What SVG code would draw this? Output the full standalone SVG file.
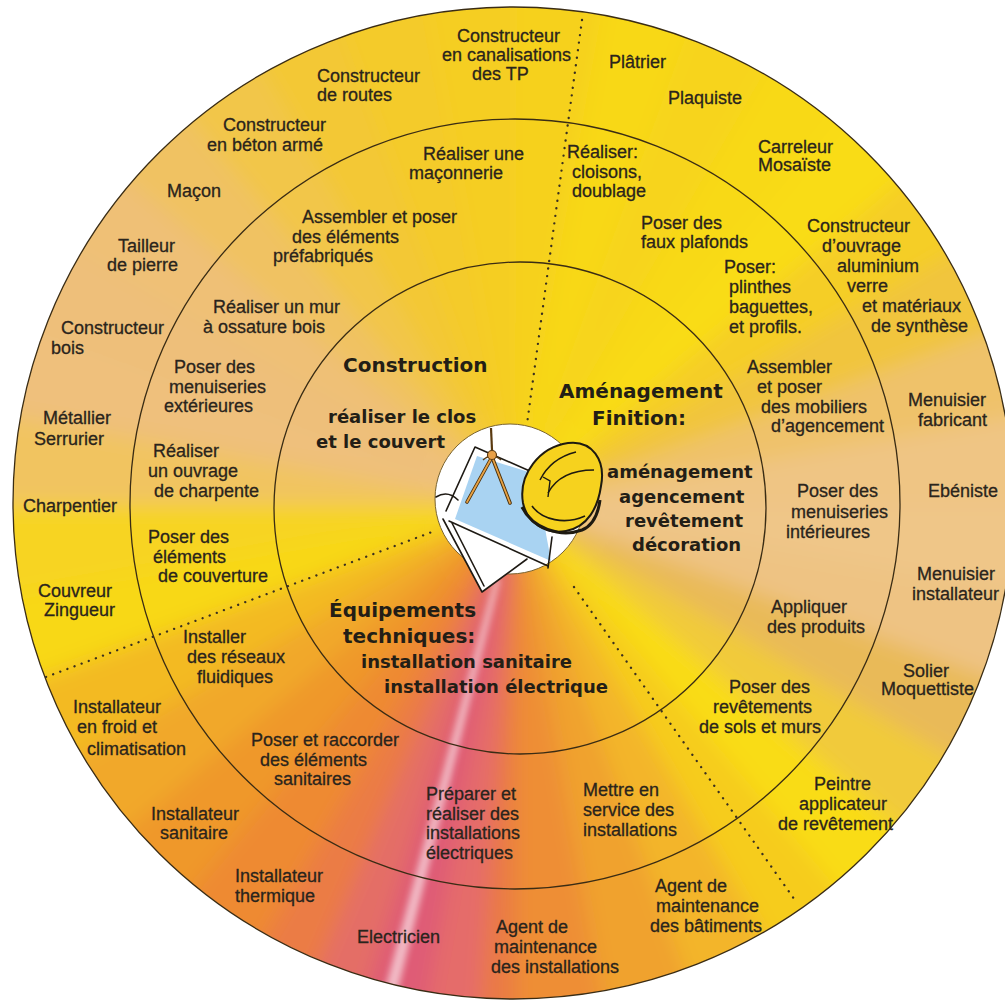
<svg xmlns="http://www.w3.org/2000/svg" width="1005" height="1001" viewBox="0 0 1005 1001">
<defs>
  <clipPath id="disc"><ellipse cx="513" cy="503" rx="500" ry="496"/></clipPath>
  <filter id="soft" filterUnits="userSpaceOnUse" x="-100" y="-100" width="1250" height="1250"><feGaussianBlur stdDeviation="10"/></filter>
  <filter id="soft2" filterUnits="userSpaceOnUse" x="300" y="500" width="300" height="520"><feGaussianBlur stdDeviation="3.5"/></filter>
</defs>
<style>
  .t{font-family:"Liberation Sans",Arial,sans-serif;font-size:18px;fill:#2a241c;stroke:#2a241c;stroke-width:0.3;}
  .h{font-family:"DejaVu Sans",Verdana,sans-serif;font-weight:bold;font-size:20px;fill:#231e16;}
  .s{font-family:"DejaVu Sans",Verdana,sans-serif;font-weight:bold;font-size:18px;fill:#231e16;}
  .ring{fill:none;stroke:#3a2c14;stroke-width:1.3;}
  .dot{fill:none;stroke:#3a3020;stroke-width:2.3;stroke-linecap:round;stroke-dasharray:0.1 7.5;}
  .w{fill:none;stroke-width:560;stroke-dasharray:50 1800;}
  .ln{fill:none;stroke:#1e1a14;stroke-width:1.6;stroke-linecap:round;stroke-linejoin:round;}
</style>
<rect width="1005" height="1001" fill="#ffffff"/>

<g id="background" clip-path="url(#disc)">
  <g filter="url(#soft)">
    <g transform="translate(515,505)">
      <circle r="280" class="w" stroke="#F6D11C" transform="rotate(-90)"/>
      <circle r="280" class="w" stroke="#F8D816" transform="rotate(-80)"/>
      <circle r="280" class="w" stroke="#F7D41A" transform="rotate(-70)"/>
      <circle r="280" class="w" stroke="#F8D914" transform="rotate(-60)"/>
      <circle r="280" class="w" stroke="#F9DC12" transform="rotate(-50)"/>
      <circle r="280" class="w" stroke="#F5CE26" transform="rotate(-40)"/>
      <circle r="280" class="w" stroke="#F1C53C" transform="rotate(-30)"/>
      <circle r="280" class="w" stroke="#EFC26A" transform="rotate(-20)"/>
      <circle r="280" class="w" stroke="#EFC584" transform="rotate(-10)"/>
      <circle r="280" class="w" stroke="#EFC688" transform="rotate(0)"/>
      <circle r="280" class="w" stroke="#EEC383" transform="rotate(10)"/>
      <circle r="280" class="w" stroke="#E9BA58" transform="rotate(20)"/>
      <circle r="280" class="w" stroke="#F1CA3A" transform="rotate(30)"/>
      <circle r="280" class="w" stroke="#F9DC18" transform="rotate(40)"/>
      <circle r="280" class="w" stroke="#F6CC1E" transform="rotate(50)"/>
      <circle r="280" class="w" stroke="#F3B52A" transform="rotate(60)"/>
      <circle r="280" class="w" stroke="#F0A22E" transform="rotate(70)"/>
      <circle r="280" class="w" stroke="#EE8E36" transform="rotate(80)"/>
      <circle r="280" class="w" stroke="#EA7A44" transform="rotate(90)"/>
      <circle r="280" class="w" stroke="#E2646E" transform="rotate(100)"/>
      <circle r="280" class="w" stroke="#EB7C44" transform="rotate(110)"/>
      <circle r="280" class="w" stroke="#EE8A30" transform="rotate(120)"/>
      <circle r="280" class="w" stroke="#EF982C" transform="rotate(130)"/>
      <circle r="280" class="w" stroke="#F1A82A" transform="rotate(140)"/>
      <circle r="280" class="w" stroke="#F3BA24" transform="rotate(150)"/>
      <circle r="280" class="w" stroke="#F8D818" transform="rotate(160)"/>
      <circle r="280" class="w" stroke="#F7D424" transform="rotate(170)"/>
      <circle r="280" class="w" stroke="#F1C460" transform="rotate(180)"/>
      <circle r="280" class="w" stroke="#EFC07C" transform="rotate(190)"/>
      <circle r="280" class="w" stroke="#EEBF7A" transform="rotate(200)"/>
      <circle r="280" class="w" stroke="#EFC076" transform="rotate(210)"/>
      <circle r="280" class="w" stroke="#F0C262" transform="rotate(220)"/>
      <circle r="280" class="w" stroke="#F2C648" transform="rotate(230)"/>
      <circle r="280" class="w" stroke="#F3C834" transform="rotate(240)"/>
      <circle r="280" class="w" stroke="#F4CB2A" transform="rotate(250)"/>
      <circle r="280" class="w" stroke="#F5CE22" transform="rotate(260)"/>
      <circle r="280" class="w" stroke="#E56C6A" style="stroke-dasharray:30 1800" transform="rotate(94)"/>
      <circle r="280" class="w" stroke="#DF5C76" style="stroke-dasharray:35 1800" transform="rotate(100)"/>
      <circle r="280" class="w" stroke="#E46E66" style="stroke-dasharray:30 1800" transform="rotate(107)"/>
    </g>
  </g>
  <polygon points="495,578 500,578 394,1005 381,1005" fill="#ffffff" opacity="0.6" filter="url(#soft2)"/>
</g>

<g id="rings">
  <ellipse class="ring" cx="513" cy="503" rx="500" ry="496"/>
  <circle class="ring" cx="515" cy="504" r="385"/>
  <circle class="ring" cx="520" cy="508" r="246"/>
</g>

<g id="connectors">
  <line class="dot" x1="582" y1="20" x2="527" y2="424"/>
  <line class="dot" x1="46" y1="677" x2="432" y2="532"/>
  <line class="dot" x1="574" y1="587" x2="797" y2="903"/>
</g>

<g id="center-illustration">
  <circle cx="510" cy="499" r="75" fill="#ffffff" stroke="#7a6430" stroke-width="1"/>
  <polygon points="443,519 482,592 527,559 548,567 450,521" fill="#ffffff"/>
  <polyline class="ln" points="443,519 482,592 527,559"/>
  <polyline class="ln" points="452,523 484,586"/>
  <polygon points="446,511 475,447 532,472 552,540 450,521" fill="#ffffff"/>
  <polyline class="ln" points="446,511 475,447 532,472"/>
  <polygon points="455,519 477,456 535,474 551,561" fill="#A9D3F2"/>
  <line class="ln" x1="449" y1="521" x2="548" y2="566" stroke-width="2"/>
  <line class="ln" x1="552" y1="537" x2="548" y2="568"/>
  <path class="ln" d="M436,497 C444,492 452,494 458,500"/>
  <line x1="491" y1="428" x2="492" y2="450" stroke="#5a3a10" stroke-width="2.2"/>
  <line x1="492" y1="457" x2="467" y2="502" stroke="#4a300c" stroke-width="3.6" stroke-linecap="round"/>
  <line x1="492" y1="457" x2="510" y2="503" stroke="#4a300c" stroke-width="3.6" stroke-linecap="round"/>
  <line x1="492" y1="457" x2="467" y2="502" stroke="#E8A244" stroke-width="1.8" stroke-linecap="round"/>
  <line x1="492" y1="457" x2="510" y2="503" stroke="#E8A244" stroke-width="1.8" stroke-linecap="round"/>
  <path d="M483,460 Q492,452 501,460" fill="none" stroke="#5a3a10" stroke-width="1.5"/>
  <circle cx="492" cy="455" r="4.5" fill="#E8A048" stroke="#5a3a10" stroke-width="1.2"/>
  <path d="M523,503 C518,474 540,447 568,443 C592,440 606,460 601,486 C598,507 588,527 566,531 C545,535 527,522 523,503 Z" fill="#F6D21E" stroke="#1e1a10" stroke-width="2"/>
  <path d="M522,507 C532,528 560,538 582,530 C592,526 598,515 600,500" fill="none" stroke="#1e1a10" stroke-width="3"/>
  <path d="M532,506 C542,520 565,525 585,516" fill="none" stroke="#1e1a10" stroke-width="1.6"/>
  <path d="M540,480 C548,464 560,456 576,452" fill="none" stroke="#1e1a10" stroke-width="1.5"/>
  <path d="M548,493 C556,478 572,470 594,470" fill="none" stroke="#1e1a10" stroke-width="1.5"/>
  <path d="M543,477 L550,481 L548,497" fill="none" stroke="#1e1a10" stroke-width="1.4"/>
</g>

<g id="title-construction">
  <text class="h" x="343" y="372">Construction</text>
  <text class="s"><tspan x="328" y="423">réaliser le clos</tspan><tspan x="316" y="448">et le couvert</tspan></text>
</g>
<g id="title-amenagement">
  <text class="h"><tspan x="559" y="398">Aménagement</tspan><tspan x="592" y="425">Finition:</tspan></text>
  <text class="s"><tspan x="607" y="478">aménagement</tspan><tspan x="619" y="503">agencement</tspan><tspan x="625" y="527">revêtement</tspan><tspan x="632" y="551">décoration</tspan></text>
</g>
<g id="title-equipements">
  <text class="h"><tspan x="329" y="617">Équipements</tspan><tspan x="343" y="643">techniques:</tspan></text>
  <text class="s"><tspan x="361" y="668">installation sanitaire</tspan><tspan x="384" y="693">installation électrique</tspan></text>
</g>

<g id="n-realiser-maconnerie"><text class="t"><tspan x="423" y="160">Réaliser une</tspan><tspan x="409" y="179">maçonnerie</tspan></text></g>
<g id="n-assembler-prefab"><text class="t"><tspan x="302" y="223">Assembler et poser</tspan><tspan x="292" y="243">des éléments</tspan><tspan x="273" y="262">préfabriqués</tspan></text></g>
<g id="n-mur-ossature"><text class="t"><tspan x="213" y="313">Réaliser un mur</tspan><tspan x="203" y="333">à ossature bois</tspan></text></g>
<g id="n-menuiseries-ext"><text class="t"><tspan x="174" y="373">Poser des</tspan><tspan x="169" y="393">menuiseries</tspan><tspan x="164" y="412">extérieures</tspan></text></g>
<g id="n-charpente"><text class="t"><tspan x="153" y="457">Réaliser</tspan><tspan x="148" y="477">un ouvrage</tspan><tspan x="154" y="497">de charpente</tspan></text></g>
<g id="n-couverture"><text class="t"><tspan x="148" y="543">Poser des</tspan><tspan x="153" y="563">éléments</tspan><tspan x="158" y="582">de couverture</tspan></text></g>
<g id="n-reseaux"><text class="t"><tspan x="183" y="643">Installer</tspan><tspan x="187" y="663">des réseaux</tspan><tspan x="197" y="683">fluidiques</tspan></text></g>
<g id="n-raccorder"><text class="t"><tspan x="251" y="746">Poser et raccorder</tspan><tspan x="260" y="766">des éléments</tspan><tspan x="274" y="785">sanitaires</tspan></text></g>
<g id="n-installations-elec"><text class="t"><tspan x="426" y="800">Préparer et</tspan><tspan x="426" y="820">réaliser des</tspan><tspan x="426" y="839">installations</tspan><tspan x="426" y="859">électriques</tspan></text></g>
<g id="n-mise-en-service"><text class="t"><tspan x="583" y="796">Mettre en</tspan><tspan x="583" y="816">service des</tspan><tspan x="583" y="836">installations</tspan></text></g>
<g id="n-revetements"><text class="t"><tspan x="729" y="693">Poser des</tspan><tspan x="713" y="713">revêtements</tspan><tspan x="699" y="733">de sols et murs</tspan></text></g>
<g id="n-produits"><text class="t"><tspan x="771" y="613">Appliquer</tspan><tspan x="767" y="633">des produits</tspan></text></g>
<g id="n-menuiseries-int"><text class="t"><tspan x="797" y="497">Poser des</tspan><tspan x="791" y="518">menuiseries</tspan><tspan x="786" y="538">intérieures</tspan></text></g>
<g id="n-mobiliers"><text class="t"><tspan x="747" y="373">Assembler</tspan><tspan x="757" y="393">et poser</tspan><tspan x="761" y="413">des mobiliers</tspan><tspan x="771" y="432">d’agencement</tspan></text></g>
<g id="n-profils"><text class="t"><tspan x="724" y="273">Poser:</tspan><tspan x="729" y="293">plinthes</tspan><tspan x="729" y="313">baguettes,</tspan><tspan x="729" y="333">et profils.</tspan></text></g>
<g id="n-plafonds"><text class="t"><tspan x="641" y="229">Poser des</tspan><tspan x="641" y="248">faux plafonds</tspan></text></g>
<g id="n-cloisons"><text class="t"><tspan x="567" y="158">Réaliser:</tspan><tspan x="572" y="178">cloisons,</tspan><tspan x="572" y="197">doublage</tspan></text></g>

<g id="n-constructeur-tp"><text class="t"><tspan x="457" y="42">Constructeur</tspan><tspan x="442" y="61">en canalisations</tspan><tspan x="472" y="80">des TP</tspan></text></g>
<g id="n-constructeur-routes"><text class="t"><tspan x="317" y="82">Constructeur</tspan><tspan x="317" y="101">de routes</tspan></text></g>
<g id="n-constructeur-beton"><text class="t"><tspan x="223" y="131">Constructeur</tspan><tspan x="207" y="151">en béton armé</tspan></text></g>
<g id="n-macon"><text class="t" x="167" y="197">Maçon</text></g>
<g id="n-tailleur"><text class="t"><tspan x="118" y="252">Tailleur</tspan><tspan x="107" y="271">de pierre</tspan></text></g>
<g id="n-constructeur-bois"><text class="t"><tspan x="61" y="334">Constructeur</tspan><tspan x="51" y="354">bois</tspan></text></g>
<g id="n-metallier"><text class="t"><tspan x="43" y="424">Métallier</tspan><tspan x="34" y="445">Serrurier</tspan></text></g>
<g id="n-charpentier"><text class="t" x="23" y="512">Charpentier</text></g>
<g id="n-couvreur"><text class="t"><tspan x="38" y="597">Couvreur</tspan><tspan x="44" y="616">Zingueur</tspan></text></g>
<g id="n-installateur-froid"><text class="t"><tspan x="73" y="713">Installateur</tspan><tspan x="77" y="733">en froid et</tspan><tspan x="87" y="755">climatisation</tspan></text></g>
<g id="n-installateur-sanitaire"><text class="t"><tspan x="151" y="820">Installateur</tspan><tspan x="160" y="839">sanitaire</tspan></text></g>
<g id="n-installateur-thermique"><text class="t"><tspan x="235" y="882">Installateur</tspan><tspan x="235" y="902">thermique</tspan></text></g>
<g id="n-electricien"><text class="t" x="357" y="943">Electricien</text></g>
<g id="n-agent-installations"><text class="t"><tspan x="496" y="933">Agent de</tspan><tspan x="494" y="953">maintenance</tspan><tspan x="491" y="973">des installations</tspan></text></g>
<g id="n-agent-batiments"><text class="t"><tspan x="655" y="892">Agent de</tspan><tspan x="656" y="912">maintenance</tspan><tspan x="650" y="932">des bâtiments</tspan></text></g>
<g id="n-peintre"><text class="t"><tspan x="814" y="790">Peintre</tspan><tspan x="799" y="810">applicateur</tspan><tspan x="778" y="830">de revêtement</tspan></text></g>
<g id="n-solier"><text class="t"><tspan x="903" y="677">Solier</tspan><tspan x="881" y="695">Moquettiste</tspan></text></g>
<g id="n-menuisier-installateur"><text class="t"><tspan x="917" y="580">Menuisier</tspan><tspan x="912" y="600">installateur</tspan></text></g>
<g id="n-ebeniste"><text class="t" x="928" y="497">Ebéniste</text></g>
<g id="n-menuisier-fabricant"><text class="t"><tspan x="908" y="406">Menuisier</tspan><tspan x="918" y="426">fabricant</tspan></text></g>
<g id="n-constructeur-ouvrage"><text class="t"><tspan x="807" y="232">Constructeur</tspan><tspan x="822" y="252">d’ouvrage</tspan><tspan x="837" y="272">aluminium</tspan><tspan x="847" y="292">verre</tspan><tspan x="862" y="312">et matériaux</tspan><tspan x="871" y="332">de synthèse</tspan></text></g>
<g id="n-carreleur"><text class="t"><tspan x="758" y="153">Carreleur</tspan><tspan x="758" y="171">Mosaïste</tspan></text></g>
<g id="n-plaquiste"><text class="t" x="668" y="104">Plaquiste</text></g>
<g id="n-platrier"><text class="t" x="609" y="68">Plâtrier</text></g>
</svg>
